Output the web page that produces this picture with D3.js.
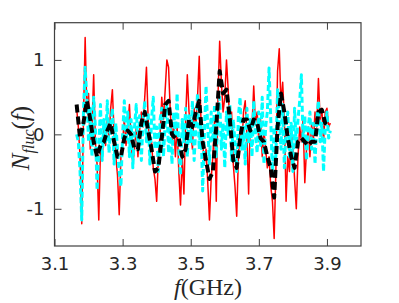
<!DOCTYPE html>
<meta charset="utf-8">
<style>
    body {
        margin: 0;
        background-color: #fff;
    }

    .axis text {
        font: 18px "DejaVu Sans", sans-serif;
        fill: #262626;
    }

    .axis path {
        display: none;
    }

    .axis line {
        stroke: #404040;
        stroke-width: 1px;
    }

    .frame {
        fill: none;
        stroke: #404040;
        stroke-width: 1.2px;
    }

    .line {
        fill: none;
        stroke-linejoin: round;
    }

    .red {
        stroke: #ff0000;
        stroke-width: 1.5px;
    }

    .black {
        stroke: #000;
        stroke-width: 4px;
        stroke-dasharray: 8, 4;
    }

    .cyan {
        stroke: #00ffff;
        stroke-width: 3px;
        stroke-dasharray: 6, 3;
    }
</style>

<body>
    <svg width="399" height="303"></svg>
</body>
<script src="https://d3js.org/d3.v7.min.js"></script>
<script>
    // frequency grid (GHz)
    var f0 = 3.165,
        dfFine = 0.005,
        dfCoarse = 0.01;

    var xTicks = [3.1, 3.3, 3.5, 3.7, 3.9];
    var yTicks = [-1, 0, 1];

    // measured fluctuation (red, solid)
    var redVals = [
        0.35, 0.1, -0.3, -1.2, 0.2, 1.3, 0.3, 0.55, -0.2, 0.1,
        0.8, -0.1, -0.4, -1.15, -0.2, -0.35, 0.1, -0.15, 0.2, -0.05,
        0.35, 0.6, 0.0, -0.3, -0.55, -1.08, -0.3, -0.1, 0.2, -0.15,
        0.1, 0.4, -0.1, -0.4, -0.2, 0.1, -0.3, 0.05, 0.3, 0.1,
        0.5, 0.9, 0.2, -0.2, -0.1, -0.45, -0.6, -0.9, -0.3, 0.0,
        0.5, 0.2, 0.6, 1.0, 0.9, 0.3, -0.1, 0.15, -0.3, 0.1,
        -0.5, -0.95, -0.3, -0.8, 0.2, 0.8, 0.3, 0.1, -0.2, 0.35,
        0.1, 0.5, 1.05, 0.2, -0.1, -0.4, -0.2, -0.65, -1.15, -0.6,
        -0.3, 0.2, -0.9, 0.5, 1.25, 0.7, 0.3, 0.5, 1.0, 0.6,
        0.1, 0.3, -0.4, -0.7, -1.1, -0.3, 0.1, -0.2, 0.3, 0.45,
        0.0, -0.8, 0.2, 0.1, 0.65, 0.15, 0.3, -0.1, 0.2, -0.3,
        0.05, -0.2, -0.45, -0.3, -0.7, -0.9, -1.4, -0.5, 0.85, 1.15,
        0.4, 0.7, 0.2, -0.9, -0.3, -0.5, 0.1, -0.2, -0.6, -1.0,
        -0.3, 0.1, -0.1, 0.2, -0.65, -0.2, 0.1, -0.3, 0.15, -0.1,
        0.3, 0.1, 0.75, 0.2, 0.35, -0.1, 0.3, 0.35, 0.1, 0.15
    ];

    // smoothed (black, thick dashed)
    var blackVals = [
        0.4, -0.05, 0.15, 0.45, 0.2, -0.1, -0.3, -0.15, -0.1, 0.05,
        0.15, -0.1, -0.3, -0.3, -0.05, 0.05, 0.0, -0.2, -0.2, 0.15,
        0.3, 0.05, -0.2, -0.5, -0.45, -0.05, 0.4, 0.45, 0.0, -0.05,
        -0.05, -0.3, -0.2, 0.2, 0.1, 0.3, 0.45, -0.1, -0.35, -0.6,
        -0.5, 0.1, 0.85, 0.55, 0.6, 0.2, -0.35, -0.45, -0.05, 0.2,
        0.2, 0.05, 0.2, 0.15, -0.05, -0.1, -0.3, -0.45, -0.85, 0.1,
        0.55, 0.3, -0.05, -0.3, -0.45, -0.1, -0.05, -0.1, -0.15, -0.1,
        -0.1, 0.3, 0.33, 0.15, 0.1
    ];

    // model fluctuation (cyan, dashed)
    var cyanVals = [
        0.0, -0.1, -0.5, -1.15, 0.3, 0.9, 0.5, -0.1, 0.35, -0.3,
        0.5, 0.1, -0.75, -0.2, 0.4, -0.35, 0.2, -0.1, 0.45, -0.25,
        0.1, 0.35, -0.4, 0.15, -0.2, -0.5, -0.7, 0.0, 0.45, -0.1,
        0.3, -0.3, 0.2, -0.45, 0.1, 0.4, -0.2, 0.25, -0.35, 0.15,
        0.45, -0.1, 0.3, -0.4, 0.2, 0.5, -0.2, 0.1, -0.5, 0.2,
        0.35, -0.3, 0.15, 0.4, -0.25, 0.1, -0.4, 0.3, 0.0, 0.55,
        -0.2, -0.55, 0.2, -0.1, 0.35, -0.3, 0.25, -0.1, 0.45, -0.35,
        0.1, 0.55, -0.2, 0.2, -0.76, 0.0, 0.65, 0.1, -0.4, 0.3,
        -0.1, 0.4, -0.3, 0.2, 0.5, -0.2, 0.15, -0.45, 0.3, 0.0,
        0.4, -0.35, 0.2, -0.1, -0.5, 0.25, 0.5, -0.2, 0.1, -0.4,
        0.35, -0.1, 0.2, -0.3, 0.45, 0.0, -0.25, 0.3, -0.15, 0.5,
        -0.4, 0.1, 0.3, 0.89, 0.2, -0.55, 0.1, -0.3, 0.6, 0.2,
        -0.2, 0.4, -0.45, 0.1, 0.3, -0.3, 0.15, -0.5, 0.35, -0.15,
        0.2, 0.45, 0.8, -0.1, 0.25, -0.35, 0.1, 0.3, -0.2, 0.15,
        -0.4, 0.2, 0.45, -0.1, 0.15, -0.5, 0.1, 0.3, -0.05, 0.05
    ];

    var svg = d3.select("svg"),
        margin = {
            top: 22.7,
            right: 38,
            bottom: 57,
            left: 54.5
        },
        width = +svg.attr("width") - margin.left - margin.right,
        height = +svg.attr("height") - margin.top - margin.bottom;

    var x = d3.scaleLinear().domain([3.1, 4.0]).range([0, width]);
    var y = d3.scaleLinear().domain([-1.5, 1.5]).range([height, 0]);

    var g = svg.append("g")
        .attr("transform", "translate(" + margin.left + "," + margin.top + ")");

    function toPoints(vals, step) {
        return vals.map(function(v, i) {
            return { f: f0 + i * step, v: v };
        });
    }

    var line = d3.line()
        .x(function(d) { return x(d.f); })
        .y(function(d) { return y(d.v); });

    // red underneath, then cyan, black dashes on top
    g.append("path")
        .datum(toPoints(redVals, dfFine))
        .attr("class", "line red")
        .attr("d", line);

    g.append("path")
        .datum(toPoints(cyanVals, dfFine))
        .attr("class", "line cyan")
        .attr("d", line);

    g.append("path")
        .datum(toPoints(blackVals, dfCoarse))
        .attr("class", "line black")
        .attr("d", line);

    // axes, ticks pointing inward
    g.append("g")
        .attr("class", "axis")
        .attr("transform", "translate(0," + height + ")")
        .call(d3.axisBottom(x).tickValues(xTicks).tickSize(-7).tickPadding(11)
            .tickFormat(function(d) { return d.toFixed(1); }));

    g.append("g")
        .attr("class", "axis")
        .call(d3.axisTop(x).tickValues(xTicks).tickSize(-7).tickFormat(""));

    g.append("g")
        .attr("class", "axis")
        .call(d3.axisLeft(y).tickValues(yTicks).tickSize(-7).tickPadding(10)
            .tickFormat(function(d) { return String(d); }));

    g.append("g")
        .attr("class", "axis")
        .attr("transform", "translate(" + width + ",0)")
        .call(d3.axisRight(y).tickValues(yTicks).tickSize(-7).tickFormat(""));

    g.append("rect")
        .attr("class", "frame")
        .attr("width", width)
        .attr("height", height);

    // axis titles
    var xt = svg.append("text")
        .attr("x", 208)
        .attr("y", 295)
        .attr("text-anchor", "middle")
        .style("font-family", "'Liberation Serif', serif")
        .style("font-size", "24px")
        .attr("fill", "#262626");
    xt.append("tspan").style("font-style", "italic").text("f");
    xt.append("tspan").text("(GHz)");

    var yt = svg.append("text")
        .attr("transform", "translate(29,138) rotate(-90)")
        .attr("text-anchor", "middle")
        .style("font-family", "'Liberation Serif', serif")
        .style("font-size", "25px")
        .attr("fill", "#262626");
    yt.append("tspan").style("font-style", "italic").text("N");
    yt.append("tspan").style("font-style", "italic").style("font-size", "16px")
        .attr("dy", 5).text("fluc");
    yt.append("tspan").attr("dy", -5).text("(");
    yt.append("tspan").style("font-style", "italic").text("f");
    yt.append("tspan").text(")");
</script>
